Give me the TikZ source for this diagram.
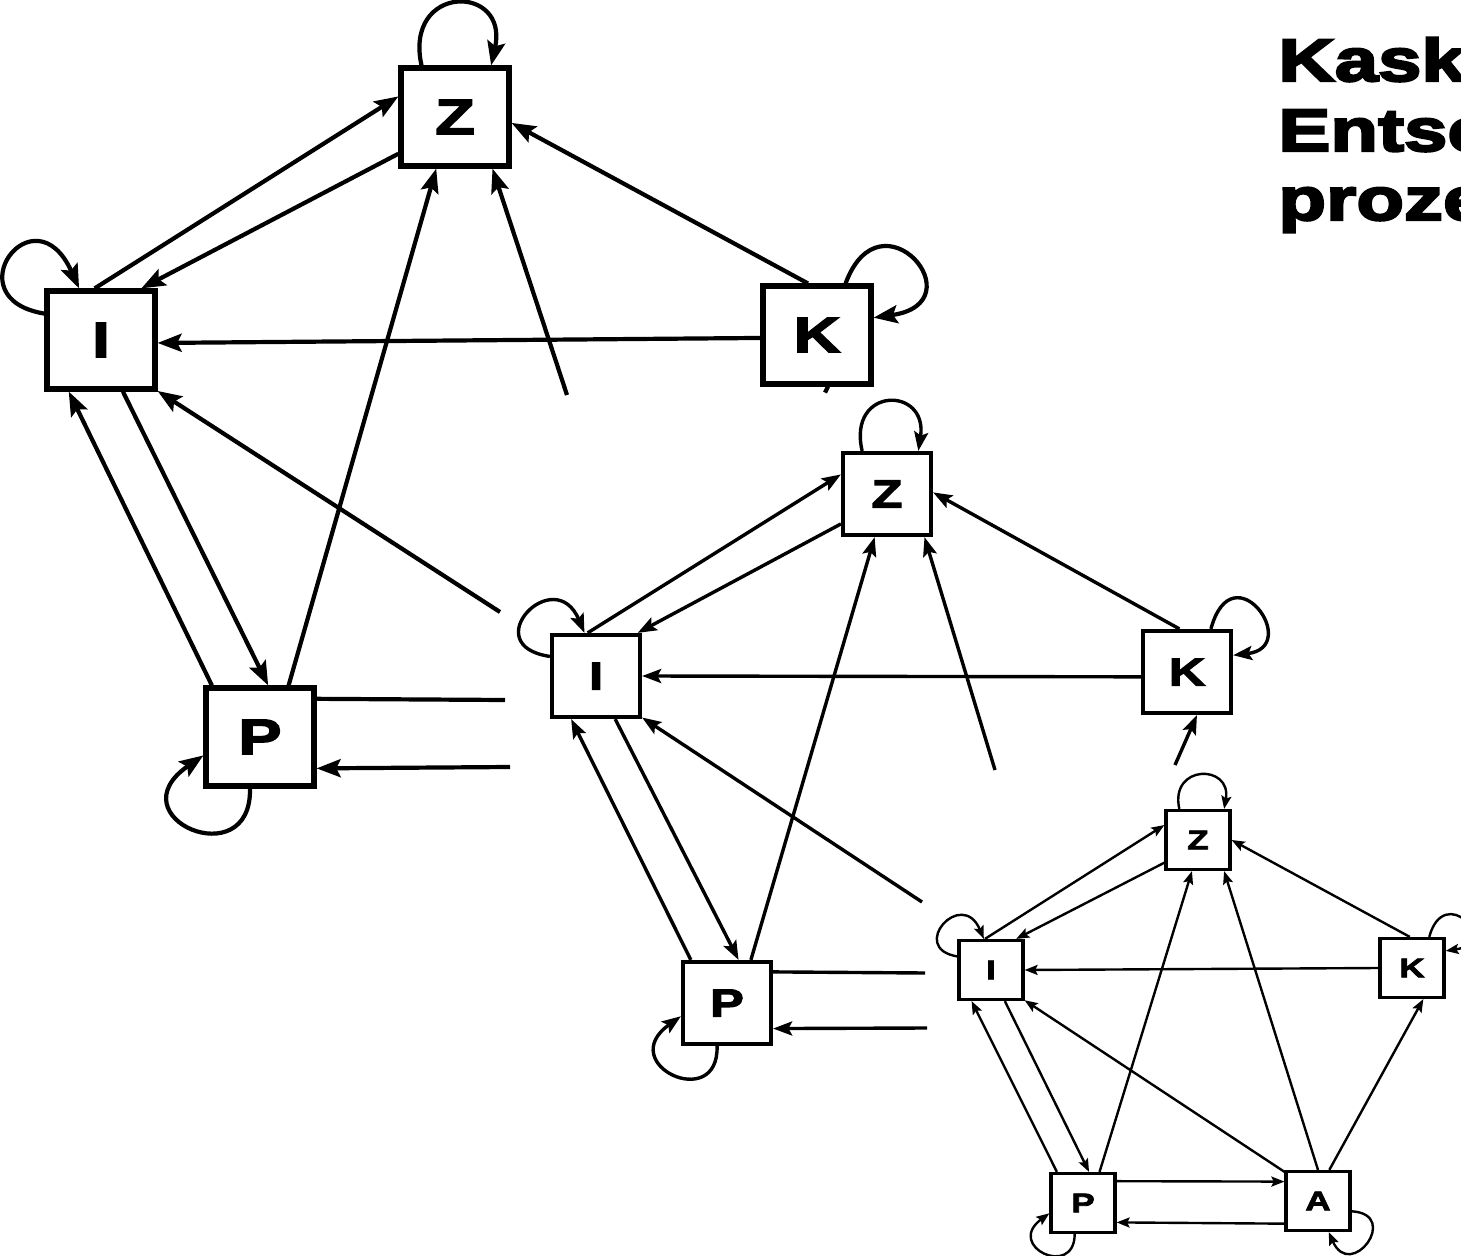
\documentclass[tikz,border=0pt]{standalone}
\usepackage{fontspec}
\usetikzlibrary{arrows.meta}
\newfontfamily\headfont[FakeStretch=1.3,FakeBold=4]{Liberation Sans Bold}
\newfontfamily\labfont[FakeStretch=1.3,FakeBold=3]{Liberation Sans Bold}

\tikzset{
  % boxes of the three nested levels
  boxa/.style={draw, line width=2.6pt, minimum width=54pt, minimum height=49pt,
    inner sep=0pt, font=\labfont\fontsize{25pt}{25pt}\selectfont},
  boxb/.style={draw, line width=2.1pt, minimum width=44pt, minimum height=41pt,
    inner sep=0pt, font=\labfont\fontsize{19.5pt}{19.5pt}\selectfont},
  boxc/.style={draw, line width=1.6pt, minimum width=32pt, minimum height=29.5pt,
    inner sep=0pt, font=\labfont\fontsize{13.5pt}{13.5pt}\selectfont},
  % connectors of the three levels
  ea/.style={line width=2.1pt, -{Stealth[length=12pt,width=9pt,inset=2.2pt]}},
  la/.style={line width=2.1pt},
  eb/.style={line width=1.7pt, -{Stealth[length=9.5pt,width=7pt,inset=1.8pt]}},
  lb/.style={line width=1.7pt},
  ec/.style={line width=1.2pt, -{Stealth[length=6.5pt,width=5pt,inset=1.2pt]}},
  heading/.style={anchor=base west, inner sep=0pt,
    font=\headfont\fontsize{30pt}{35pt}\selectfont},
}

\begin{document}
\begin{tikzpicture}[x=0.5pt,y=-0.5pt]
\useasboundingbox (0,0) rectangle (1461,1256);
\clip (0,0) rectangle (1461,1256);

% heading
\node[heading] (h1) at (1278,81) {Kask};
\node[heading] (h2) at (1278,151) {Entsc};
\node[heading] (h3) at (1278,220) {proze};

% ---------- level 1 ----------
\node[boxa] (Z1) at (455,117) {Z};
\node[boxa] (I1) at (101,340) {I};
\node[boxa] (K1) at (817,335) {K};
\node[boxa] (P1) at (260,737) {P};
\coordinate (a1z) at (567,395);
\coordinate (a1i) at (500,612);
\coordinate (a1p) at (505,700);
\coordinate (pa1) at (510,767);

\draw[ea] (I1.97) -- (Z1.160);
\draw[ea] (Z1.213) -- (I1.52);
\draw[ea] (K1.100) -- (Z1.354);
\draw[ea] (K1.183) -- (I1.357);
\draw[ea] (I1.293) -- (P1.81);
\draw[ea] (P1.133) -- (I1.238);
\draw[ea] (P1.61) -- (Z1.250);
\draw[ea] (a1z) -- (Z1.306);
\draw[ea] (a1i) -- (I1.318);
\draw[la] (P1.34) -- (a1p);
\draw[ea] (pa1) -- (P1.331);
\draw[la] (K1.282) -- ++(-3,6);

\draw[ea] (Z1.123) .. controls +(-18,-82) and +(18,-82) .. (Z1.55);
\draw[ea] (I1.155) .. controls +(-92,-15) and +(-45,-100) .. (I1.113);
\draw[ea] (K1.61) .. controls +(35,-95) and +(105,-15) .. (K1.17);
\draw[ea] (P1.259) .. controls +(2,88) and +(-90,62) .. (P1.198);

% ---------- level 2 ----------
\node[boxb] (Z2) at (887,494) {Z};
\node[boxb] (I2) at (596,676) {I};
\node[boxb] (K2) at (1187,672) {K};
\node[boxb] (P2) at (727,1003) {P};
\coordinate (a2z) at (995,770);
\coordinate (a2i) at (922,902);
\coordinate (a2k) at (1175,765);
\coordinate (a2p) at (925,973);
\coordinate (pa2) at (927,1028);

\draw[eb] (I2.101) -- (Z2.157);
\draw[eb] (Z2.213) -- (I2.46);
\draw[eb] (K2.100) -- (Z2.2);
\draw[eb] (K2.186) -- (I2.east);
\draw[eb] (I2.294) -- (P2.75);
\draw[eb] (P2.130) -- (I2.240);
\draw[eb] (P2.61) -- (Z2.254);
\draw[eb] (a2z) -- (Z2.311);
\draw[eb] (a2i) -- (I2.318);
\draw[eb] (a2k) -- (K2.283);
\draw[lb] (P2.34) -- (a2p);
\draw[eb] (pa2) -- (P2.331);

\draw[eb] (Z2.120) .. controls +(-15,-65) and +(10,-65) .. (Z2.54);
\draw[eb] (I2.157) .. controls +(-75,-11) and +(-30,-71) .. (I2.105);
\draw[eb] (K2.61) .. controls +(22,-80) and +(70,-8) .. (K2.20);
\draw[eb] (P2.257) .. controls +(2,67) and +(-67,48) .. (P2.196);

% ---------- level 3 ----------
\node[boxc] (Z3) at (1198,840) {Z};
\node[boxc] (I3) at (991,970) {I};
\node[boxc] (K3) at (1412,968) {K};
\node[boxc] (P3) at (1083,1203) {P};
\node[boxc] (A3) at (1318,1201) {A};

\draw[ec] (I3.101) -- (Z3.156);
\draw[ec] (Z3.214) -- (I3.51);
\draw[ec] (K3.94) -- (Z3.0);
\draw[ec] (K3.180) -- (I3.east);
\draw[ec] (I3.294) -- (P3.79);
\draw[ec] (P3.130) -- (I3.238);
\draw[ec] (P3.62) -- (Z3.259);
\draw[ec] (A3.90) -- (Z3.310);
\draw[ec] (A3.139) -- (I3.318);
\draw[ec] (A3.70) -- (K3.290);
\draw[ec] (P3.33) -- (A3.150);
\draw[ec] (A3.214) -- (P3.330);

\draw[ec] (Z3.121) .. controls +(-10,-45) and +(8,-45) .. (Z3.50);
\draw[ec] (I3.158) .. controls +(-50,-8) and +(-22,-52) .. (I3.103);
\draw[ec] (K3.61) .. controls +(15,-55) and +(55,-8) .. (K3.27);
\draw[ec] (P3.255) .. controls +(0,45) and +(-45,33) .. (P3.197);
\draw[ec] (A3.343) .. controls +(50,3) and +(22,50) .. (A3.289);
\end{tikzpicture}
\end{document}
